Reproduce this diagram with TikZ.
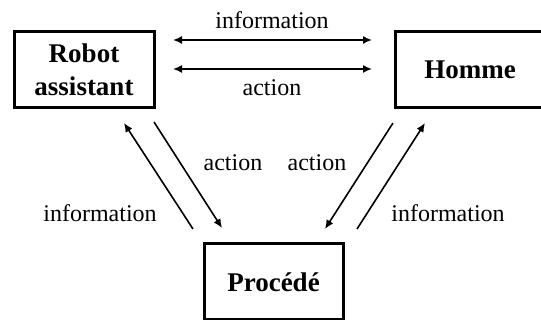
\documentclass[tikz,border=0pt]{standalone}
\usepackage{fontspec}
\setmainfont{Liberation Serif}
\usetikzlibrary{arrows.meta}
\begin{document}
\begin{tikzpicture}[x=1pt,y=-1pt,
  box/.style={draw, line width=3pt, rectangle, inner sep=0pt, align=center, font=\fontsize{27}{33}\selectfont\bfseries},
  conn/.style={line width=1.6pt, -{Latex[length=9pt,width=8pt]}},
  biconn/.style={line width=1.6pt, {Latex[length=9pt,width=8pt]}-{Latex[length=9pt,width=8pt]}},
  lab/.style={font=\fontsize{24}{28}\selectfont, inner sep=0pt}]
\useasboundingbox (0,0) rectangle (541,320);
\node[box, minimum width=140pt, minimum height=76pt] (robot) at (84,70) {Robot\\assistant};
\node[box, minimum width=150pt, minimum height=76pt] (homme) at (470,70) {Homme};
\node[box, minimum width=139pt, minimum height=76pt] (proc) at (273.5,282) {Procédé};
% top arrows
\coordinate (t1a) at (173,40); \coordinate (t1b) at (372,40);
\coordinate (t2a) at (173,69); \coordinate (t2b) at (372,69);
\draw[biconn] (t1a) -- (t1b);
\draw[biconn] (t2a) -- (t2b);
\node[lab] (li) at (272,20) {information};
\node[lab] (la) at (272,88) {action};
% left
\coordinate (l1a) at (193,229); \coordinate (l1b) at (124,123);
\coordinate (l2a) at (154,122); \coordinate (l2b) at (222,228);
\draw[conn] (l1a) -- (l1b);
\draw[conn] (l2a) -- (l2b);
% right
\coordinate (r1a) at (393,123); \coordinate (r1b) at (325,229);
\coordinate (r2a) at (357,229); \coordinate (r2b) at (425,123);
\draw[conn] (r1a) -- (r1b);
\draw[conn] (r2a) -- (r2b);
\node[lab] (lac) at (233,163) {action};
\node[lab] (rac) at (317,163) {action};
\node[lab] (lin) at (100,213) {information};
\node[lab] (rin) at (448,213) {information};
\end{tikzpicture}
\end{document}
